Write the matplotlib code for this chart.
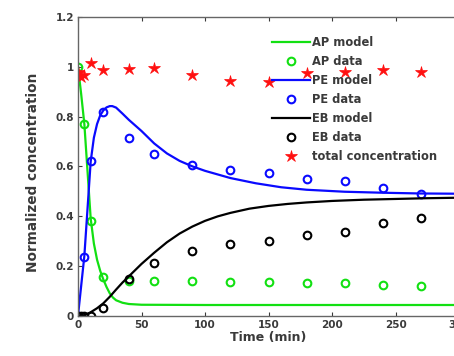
"""
Normalized concentration vs time: AP / PE / EB model and data
"""

import numpy as np
import matplotlib.pyplot as plt
from matplotlib.ticker import FuncFormatter

t_data = [0, 5, 10, 20, 40, 60, 90, 120, 150, 180, 210, 240, 270]
ap_data = [1.0, 0.77, 0.38, 0.155, 0.14, 0.14, 0.14, 0.135, 0.135, 0.13, 0.13, 0.125, 0.12]
pe_data = [0.0, 0.235, 0.623, 0.817, 0.713, 0.651, 0.607, 0.584, 0.572, 0.549, 0.54, 0.512, 0.489]

t_eb = [0, 2, 5, 10, 20, 40, 60, 90, 120, 150, 180, 210, 240, 270]
eb_data = [0.0, 0.0, 0.0, 0.0, 0.032, 0.146, 0.213, 0.26, 0.288, 0.299, 0.324, 0.337, 0.374, 0.391]

t_total = [0, 0, 2, 5, 10, 20, 40, 60, 90, 120, 150, 180, 210, 240, 270]
total_data = [0.975, 0.98, 0.96, 0.965, 1.014, 0.988, 0.99, 0.994, 0.967, 0.943, 0.94,
              0.974, 0.978, 0.987, 0.98]

# curvas del modelo
t_ap_mod = [0, 2.5, 5, 7.5, 10, 12.5, 15, 17.5, 20, 22.5, 25, 27.5, 30, 35, 40, 50, 100, 200, 300]
ap_model = [1.0, 0.89, 0.77, 0.58, 0.39, 0.29, 0.225, 0.18, 0.145, 0.115, 0.09, 0.073, 0.062,
            0.052, 0.047, 0.044, 0.043, 0.043, 0.043]

t_pe_mod = [0, 5, 10, 12.5, 15, 17.5, 20, 22.5, 25, 27, 30, 35, 40, 46, 50, 60, 70, 80, 90,
            100, 120, 140, 160, 180, 210, 240, 270, 300]
pe_model = [0.0, 0.24, 0.62, 0.715, 0.77, 0.805, 0.825, 0.837, 0.842, 0.842, 0.836, 0.812,
            0.787, 0.76, 0.742, 0.692, 0.652, 0.622, 0.6, 0.582, 0.553, 0.532, 0.516, 0.506,
            0.498, 0.494, 0.491, 0.49]

t_eb_mod = [0, 5, 10, 15, 20, 25, 30, 35, 40, 50, 60, 70, 80, 90, 100, 110, 120, 135, 150,
            165, 180, 200, 225, 250, 275, 300]
eb_model = [0.0, 0.002, 0.014, 0.03, 0.05, 0.076, 0.105, 0.133, 0.158, 0.208, 0.253, 0.295,
            0.33, 0.358, 0.381, 0.399, 0.413, 0.43, 0.441, 0.449, 0.455, 0.461, 0.466, 0.469,
            0.472, 0.474]

verde = '#12e012'
gris = '#3a3a3a'

fig = plt.figure(figsize=(4.54, 3.56), dpi=100)
ax = fig.add_axes([78 / 454, 40.3 / 356, 381 / 454, 298.7 / 356])

ax.plot(t_ap_mod, ap_model, '-', color=verde, lw=1.6, label='AP model')
ax.plot(t_data, ap_data, 'o', mfc='none', mec=verde, ms=5.5, mew=1.5, label='AP data')
ax.plot(t_pe_mod, pe_model, '-', color='#0a0aff', lw=1.6, label='PE model')
ax.plot(t_data, pe_data, 'o', mfc='none', mec='#0a0aff', ms=5.5, mew=1.5, label='PE data')
ax.plot(t_eb_mod, eb_model, '-', color='black', lw=1.6, label='EB model')
ax.plot(t_eb, eb_data, 'o', mfc='none', mec='black', ms=5.5, mew=1.5, label='EB data')
ax.plot(t_total, total_data, '*', color='#ff1010', ms=9, mew=0.5,
        label='total concentration')

ax.set_xlim(0, 300)
ax.set_ylim(0, 1.2)
ax.set_xticks(np.arange(0, 301, 50))
ax.set_yticks(np.arange(0, 1.21, 0.2))
ax.yaxis.set_major_formatter(FuncFormatter(lambda v, p: f'{v:g}'))
ax.tick_params(direction='in', length=3, top=True, right=True, colors=gris,
               labelsize=7.5, pad=3)
for lab in ax.get_xticklabels() + ax.get_yticklabels():
    lab.set_fontweight('bold')
for s in ax.spines.values():
    s.set_color('#666666')
    s.set_linewidth(1.0)

ax.set_xlabel('Time (min)', fontsize=9, fontweight='bold', color=gris, labelpad=1)
ax.set_ylabel('Normalized concentration', fontsize=9.8, fontweight='bold', color=gris,
              labelpad=4)
ax.yaxis.set_label_coords(-0.1, 0.48)

leg = ax.legend(loc='upper left', bbox_to_anchor=(0.51, 0.937), frameon=False,
                handlelength=3.3, handletextpad=0.15, labelspacing=0.52,
                borderpad=0, borderaxespad=0, prop={'weight': 'bold', 'size': 8.3})
for txt in leg.get_texts():
    txt.set_color(gris)

fig.savefig('out.png', dpi=100)
